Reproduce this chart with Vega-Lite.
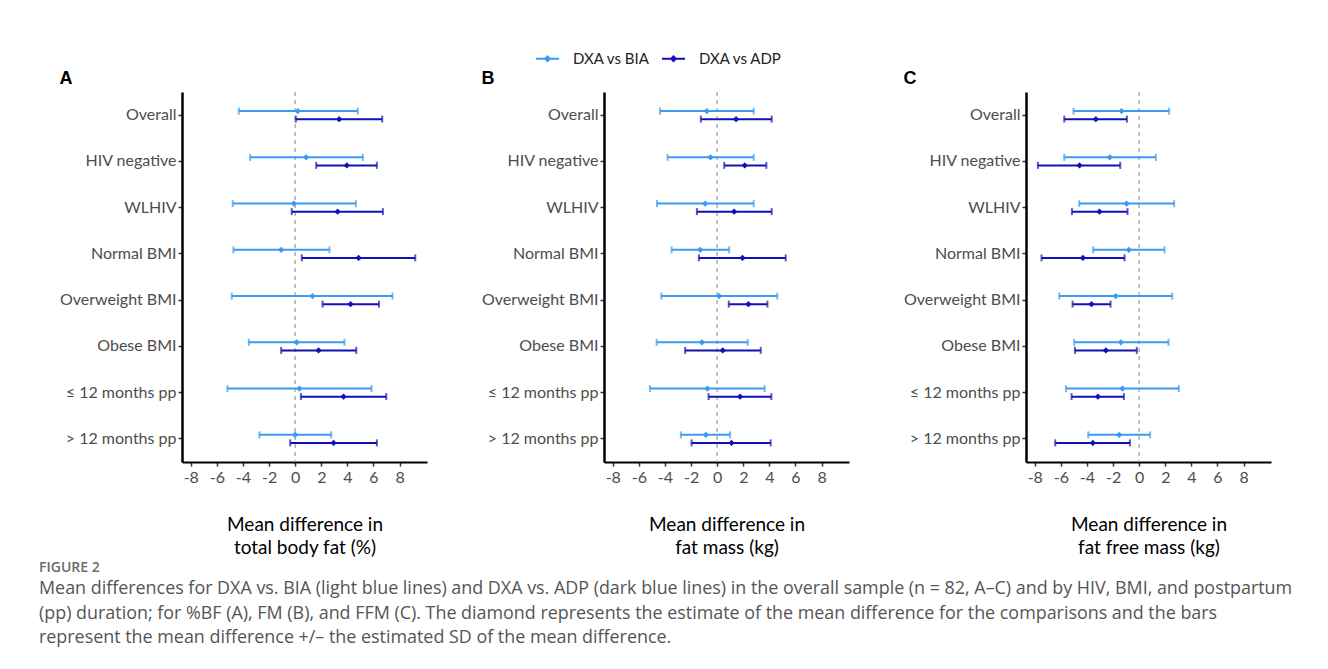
{
  "$schema": "https://vega.github.io/schema/vega-lite/v6.json",
  "background": "white",
  "padding": {"left": 39, "top": 46, "right": 10, "bottom": 10},
  "datasets": {
    "md": [
      {"panel": "A", "group": "Overall", "series": "DXA vs BIA", "lo": -4.32, "mean": 0.2, "hi": 4.8},
      {"panel": "A", "group": "Overall", "series": "DXA vs ADP", "lo": 0.05, "mean": 3.37, "hi": 6.67},
      {"panel": "A", "group": "HIV negative", "series": "DXA vs BIA", "lo": -3.45, "mean": 0.84, "hi": 5.19},
      {"panel": "A", "group": "HIV negative", "series": "DXA vs ADP", "lo": 1.61, "mean": 3.96, "hi": 6.26},
      {"panel": "A", "group": "WLHIV", "series": "DXA vs BIA", "lo": -4.78, "mean": -0.1, "hi": 4.65},
      {"panel": "A", "group": "WLHIV", "series": "DXA vs ADP", "lo": -0.26, "mean": 3.25, "hi": 6.72},
      {"panel": "A", "group": "Normal BMI", "series": "DXA vs BIA", "lo": -4.73, "mean": -1.07, "hi": 2.63},
      {"panel": "A", "group": "Normal BMI", "series": "DXA vs ADP", "lo": 0.51, "mean": 4.86, "hi": 9.2},
      {"panel": "A", "group": "Overweight BMI", "series": "DXA vs BIA", "lo": -4.86, "mean": 1.33, "hi": 7.46},
      {"panel": "A", "group": "Overweight BMI", "series": "DXA vs ADP", "lo": 2.1, "mean": 4.24, "hi": 6.42},
      {"panel": "A", "group": "Obese BMI", "series": "DXA vs BIA", "lo": -3.55, "mean": 0.13, "hi": 3.78},
      {"panel": "A", "group": "Obese BMI", "series": "DXA vs ADP", "lo": -1.07, "mean": 1.79, "hi": 4.68},
      {"panel": "A", "group": "≤ 12 months pp", "series": "DXA vs BIA", "lo": -5.19, "mean": 0.33, "hi": 5.85},
      {"panel": "A", "group": "≤ 12 months pp", "series": "DXA vs ADP", "lo": 0.44, "mean": 3.71, "hi": 6.98},
      {"panel": "A", "group": "> 12 months pp", "series": "DXA vs BIA", "lo": -2.74, "mean": 0.0, "hi": 2.76},
      {"panel": "A", "group": "> 12 months pp", "series": "DXA vs ADP", "lo": -0.38, "mean": 2.94, "hi": 6.26},
      {"panel": "B", "group": "Overall", "series": "DXA vs BIA", "lo": -4.38, "mean": -0.79, "hi": 2.8},
      {"panel": "B", "group": "Overall", "series": "DXA vs ADP", "lo": -1.25, "mean": 1.45, "hi": 4.18},
      {"panel": "B", "group": "HIV negative", "series": "DXA vs BIA", "lo": -3.8, "mean": -0.51, "hi": 2.8},
      {"panel": "B", "group": "HIV negative", "series": "DXA vs ADP", "lo": 0.54, "mean": 2.11, "hi": 3.77},
      {"panel": "B", "group": "WLHIV", "series": "DXA vs BIA", "lo": -4.61, "mean": -0.92, "hi": 2.8},
      {"panel": "B", "group": "WLHIV", "series": "DXA vs ADP", "lo": -1.55, "mean": 1.3, "hi": 4.18},
      {"panel": "B", "group": "Normal BMI", "series": "DXA vs BIA", "lo": -3.49, "mean": -1.3, "hi": 0.92},
      {"panel": "B", "group": "Normal BMI", "series": "DXA vs ADP", "lo": -1.4, "mean": 1.94, "hi": 5.25},
      {"panel": "B", "group": "Overweight BMI", "series": "DXA vs BIA", "lo": -4.28, "mean": 0.15, "hi": 4.61},
      {"panel": "B", "group": "Overweight BMI", "series": "DXA vs ADP", "lo": 0.89, "mean": 2.39, "hi": 3.85},
      {"panel": "B", "group": "Obese BMI", "series": "DXA vs BIA", "lo": -4.64, "mean": -1.17, "hi": 2.34},
      {"panel": "B", "group": "Obese BMI", "series": "DXA vs ADP", "lo": -2.45, "mean": 0.43, "hi": 3.34},
      {"panel": "B", "group": "≤ 12 months pp", "series": "DXA vs BIA", "lo": -5.15, "mean": -0.74, "hi": 3.64},
      {"panel": "B", "group": "≤ 12 months pp", "series": "DXA vs ADP", "lo": -0.66, "mean": 1.76, "hi": 4.15},
      {"panel": "B", "group": "> 12 months pp", "series": "DXA vs BIA", "lo": -2.78, "mean": -0.87, "hi": 0.99},
      {"panel": "B", "group": "> 12 months pp", "series": "DXA vs ADP", "lo": -1.96, "mean": 1.1, "hi": 4.1},
      {"panel": "C", "group": "Overall", "series": "DXA vs BIA", "lo": -5.03, "mean": -1.35, "hi": 2.3},
      {"panel": "C", "group": "Overall", "series": "DXA vs ADP", "lo": -5.74, "mean": -3.32, "hi": -0.94},
      {"panel": "C", "group": "HIV negative", "series": "DXA vs BIA", "lo": -5.74, "mean": -2.25, "hi": 1.28},
      {"panel": "C", "group": "HIV negative", "series": "DXA vs ADP", "lo": -7.76, "mean": -4.57, "hi": -1.45},
      {"panel": "C", "group": "WLHIV", "series": "DXA vs BIA", "lo": -4.59, "mean": -0.97, "hi": 2.68},
      {"panel": "C", "group": "WLHIV", "series": "DXA vs ADP", "lo": -5.15, "mean": -3.04, "hi": -0.89},
      {"panel": "C", "group": "Normal BMI", "series": "DXA vs BIA", "lo": -3.52, "mean": -0.79, "hi": 1.94},
      {"panel": "C", "group": "Normal BMI", "series": "DXA vs ADP", "lo": -7.48, "mean": -4.31, "hi": -1.12},
      {"panel": "C", "group": "Overweight BMI", "series": "DXA vs BIA", "lo": -6.12, "mean": -1.79, "hi": 2.53},
      {"panel": "C", "group": "Overweight BMI", "series": "DXA vs ADP", "lo": -5.1, "mean": -3.65, "hi": -2.19},
      {"panel": "C", "group": "Obese BMI", "series": "DXA vs BIA", "lo": -4.98, "mean": -1.4, "hi": 2.25},
      {"panel": "C", "group": "Obese BMI", "series": "DXA vs ADP", "lo": -4.92, "mean": -2.55, "hi": -0.18},
      {"panel": "C", "group": "≤ 12 months pp", "series": "DXA vs BIA", "lo": -5.61, "mean": -1.28, "hi": 3.04},
      {"panel": "C", "group": "≤ 12 months pp", "series": "DXA vs ADP", "lo": -5.18, "mean": -3.16, "hi": -1.17},
      {"panel": "C", "group": "> 12 months pp", "series": "DXA vs BIA", "lo": -3.9, "mean": -1.53, "hi": 0.84},
      {"panel": "C", "group": "> 12 months pp", "series": "DXA vs ADP", "lo": -6.43, "mean": -3.55, "hi": -0.71}
    ]
  },
  "title": {
    "text": "FIGURE 2",
    "subtitle": [
      "Mean differences for DXA vs. BIA (light blue lines) and DXA vs. ADP (dark blue lines) in the overall sample (n = 82, A–C) and by HIV, BMI, and postpartum",
      "(pp) duration; for %BF (A), FM (B), and FFM (C). The diamond represents the estimate of the mean difference for the comparisons and the bars",
      "represent the mean difference +/– the estimated SD of the mean difference."
    ],
    "orient": "bottom",
    "anchor": "start",
    "frame": "group",
    "dx": -143,
    "offset": 4,
    "font": "Open Sans",
    "fontSize": 14,
    "fontWeight": 600,
    "color": "#6b6b6b",
    "subtitleFont": "Open Sans",
    "subtitleFontSize": 17.9,
    "subtitleColor": "#555555",
    "subtitleLineHeight": 24.5,
    "subtitlePadding": 5
  },
  "spacing": 54,
  "resolve": {"scale": {"color": "shared", "x": "independent", "y": "independent"}, "legend": {"color": "shared"}},
  "hconcat": [
    {
      "width": 245, "height": 370,
      "title": {"text": "A"},
      "layer": [
        {
          "data": {"values": [{}]},
          "mark": {"type": "rule", "color": "#b0b0b0", "strokeDash": [4, 4], "strokeWidth": 1.5},
          "encoding": {
            "x": {"datum": 0, "type": "quantitative", "scale": {"domain": [-8.67, 10.1], "nice": false, "zero": false},
                  "axis": {"values": [-8, -6, -4, -2, 0, 2, 4, 6, 8], "title": ["Mean difference in", "total body fat (%)"]}}
          }
        },
        {
          "data": {"name": "md"},
          "transform": [{"filter": "datum.panel === 'A'"}],
          "encoding": {
            "y": {"field": "group", "type": "nominal", "sort": ["Overall", "HIV negative", "WLHIV", "Normal BMI", "Overweight BMI", "Obese BMI", "≤ 12 months pp", "> 12 months pp"], "scale": {"paddingInner": 0.308, "paddingOuter": 0.154}, "axis": {"title": null}},
            "yOffset": {"field": "series", "type": "nominal", "sort": ["DXA vs BIA", "DXA vs ADP"], "scale": {"paddingInner": 0, "paddingOuter": 1}},
            "color": {"field": "series", "type": "nominal", "sort": ["DXA vs BIA", "DXA vs ADP"], "scale": {"domain": ["DXA vs BIA", "DXA vs ADP"], "range": ["#3a9bef", "#1212b4"]},
                      "legend": {"orient": "none", "legendX": 353, "legendY": -46, "direction": "horizontal", "title": null, "padding": 0,
                                 "symbolType": "M-1,0H1M-0.2,0L0,-0.2L0.2,0L0,0.2Z", "symbolSize": 529, "symbolStrokeWidth": 2, "symbolOpacity": 1,
                                 "labelFont": "Lato", "labelFontSize": 15, "labelColor": "#222", "labelOffset": 13, "columnPadding": 8,
                                 "encode": {"symbols": {"update": {"opacity": {"value": 1}, "strokeOpacity": {"value": 1}}}}}}
          },
          "layer": [
            {
              "mark": {"type": "rule", "strokeWidth": 2},
              "encoding": {
                "x": {"field": "lo", "type": "quantitative", "axis": {"values": [-8, -6, -4, -2, 0, 2, 4, 6, 8], "title": ["Mean difference in", "total body fat (%)"]}},
                "x2": {"field": "hi"}
              }
            },
            {
              "mark": {"type": "tick", "orient": "vertical", "thickness": 2, "size": 7},
              "encoding": {"x": {"field": "lo", "type": "quantitative", "axis": {"values": [-8, -6, -4, -2, 0, 2, 4, 6, 8], "title": ["Mean difference in", "total body fat (%)"]}}}
            },
            {
              "mark": {"type": "tick", "orient": "vertical", "thickness": 2, "size": 7},
              "encoding": {"x": {"field": "hi", "type": "quantitative", "axis": {"values": [-8, -6, -4, -2, 0, 2, 4, 6, 8], "title": ["Mean difference in", "total body fat (%)"]}}}
            },
            {
              "mark": {"type": "point", "shape": "diamond", "filled": true, "size": 40, "opacity": 1},
              "encoding": {"x": {"field": "mean", "type": "quantitative", "axis": {"values": [-8, -6, -4, -2, 0, 2, 4, 6, 8], "title": ["Mean difference in", "total body fat (%)"]}}}
            }
          ]
        }
      ]
    },
    {
      "width": 245, "height": 370,
      "title": {"text": "B"},
      "layer": [
        {
          "data": {"values": [{}]},
          "mark": {"type": "rule", "color": "#b0b0b0", "strokeDash": [4, 4], "strokeWidth": 1.5},
          "encoding": {
            "x": {"datum": 0, "type": "quantitative", "scale": {"domain": [-8.67, 10.1], "nice": false, "zero": false},
                  "axis": {"values": [-8, -6, -4, -2, 0, 2, 4, 6, 8], "title": ["Mean difference in", "fat mass (kg)"]}}
          }
        },
        {
          "data": {"name": "md"},
          "transform": [{"filter": "datum.panel === 'B'"}],
          "encoding": {
            "y": {"field": "group", "type": "nominal", "sort": ["Overall", "HIV negative", "WLHIV", "Normal BMI", "Overweight BMI", "Obese BMI", "≤ 12 months pp", "> 12 months pp"], "scale": {"paddingInner": 0.308, "paddingOuter": 0.154}, "axis": {"title": null}},
            "yOffset": {"field": "series", "type": "nominal", "sort": ["DXA vs BIA", "DXA vs ADP"], "scale": {"paddingInner": 0, "paddingOuter": 1}},
            "color": {"field": "series", "type": "nominal", "sort": ["DXA vs BIA", "DXA vs ADP"]}
          },
          "layer": [
            {
              "mark": {"type": "rule", "strokeWidth": 2},
              "encoding": {
                "x": {"field": "lo", "type": "quantitative", "axis": {"values": [-8, -6, -4, -2, 0, 2, 4, 6, 8], "title": ["Mean difference in", "fat mass (kg)"]}},
                "x2": {"field": "hi"}
              }
            },
            {
              "mark": {"type": "tick", "orient": "vertical", "thickness": 2, "size": 7},
              "encoding": {"x": {"field": "lo", "type": "quantitative", "axis": {"values": [-8, -6, -4, -2, 0, 2, 4, 6, 8], "title": ["Mean difference in", "fat mass (kg)"]}}}
            },
            {
              "mark": {"type": "tick", "orient": "vertical", "thickness": 2, "size": 7},
              "encoding": {"x": {"field": "hi", "type": "quantitative", "axis": {"values": [-8, -6, -4, -2, 0, 2, 4, 6, 8], "title": ["Mean difference in", "fat mass (kg)"]}}}
            },
            {
              "mark": {"type": "point", "shape": "diamond", "filled": true, "size": 40, "opacity": 1},
              "encoding": {"x": {"field": "mean", "type": "quantitative", "axis": {"values": [-8, -6, -4, -2, 0, 2, 4, 6, 8], "title": ["Mean difference in", "fat mass (kg)"]}}}
            }
          ]
        }
      ]
    },
    {
      "width": 245, "height": 370,
      "title": {"text": "C"},
      "layer": [
        {
          "data": {"values": [{}]},
          "mark": {"type": "rule", "color": "#b0b0b0", "strokeDash": [4, 4], "strokeWidth": 1.5},
          "encoding": {
            "x": {"datum": 0, "type": "quantitative", "scale": {"domain": [-8.67, 10.1], "nice": false, "zero": false},
                  "axis": {"values": [-8, -6, -4, -2, 0, 2, 4, 6, 8], "title": ["Mean difference in", "fat free mass (kg)"]}}
          }
        },
        {
          "data": {"name": "md"},
          "transform": [{"filter": "datum.panel === 'C'"}],
          "encoding": {
            "y": {"field": "group", "type": "nominal", "sort": ["Overall", "HIV negative", "WLHIV", "Normal BMI", "Overweight BMI", "Obese BMI", "≤ 12 months pp", "> 12 months pp"], "scale": {"paddingInner": 0.308, "paddingOuter": 0.154}, "axis": {"title": null}},
            "yOffset": {"field": "series", "type": "nominal", "sort": ["DXA vs BIA", "DXA vs ADP"], "scale": {"paddingInner": 0, "paddingOuter": 1}},
            "color": {"field": "series", "type": "nominal", "sort": ["DXA vs BIA", "DXA vs ADP"]}
          },
          "layer": [
            {
              "mark": {"type": "rule", "strokeWidth": 2},
              "encoding": {
                "x": {"field": "lo", "type": "quantitative", "axis": {"values": [-8, -6, -4, -2, 0, 2, 4, 6, 8], "title": ["Mean difference in", "fat free mass (kg)"]}},
                "x2": {"field": "hi"}
              }
            },
            {
              "mark": {"type": "tick", "orient": "vertical", "thickness": 2, "size": 7},
              "encoding": {"x": {"field": "lo", "type": "quantitative", "axis": {"values": [-8, -6, -4, -2, 0, 2, 4, 6, 8], "title": ["Mean difference in", "fat free mass (kg)"]}}}
            },
            {
              "mark": {"type": "tick", "orient": "vertical", "thickness": 2, "size": 7},
              "encoding": {"x": {"field": "hi", "type": "quantitative", "axis": {"values": [-8, -6, -4, -2, 0, 2, 4, 6, 8], "title": ["Mean difference in", "fat free mass (kg)"]}}}
            },
            {
              "mark": {"type": "point", "shape": "diamond", "filled": true, "size": 40, "opacity": 1},
              "encoding": {"x": {"field": "mean", "type": "quantitative", "axis": {"values": [-8, -6, -4, -2, 0, 2, 4, 6, 8], "title": ["Mean difference in", "fat free mass (kg)"]}}}
            }
          ]
        }
      ]
    }
  ],
  "config": {
    "view": {"stroke": null},
    "font": "Lato",
    "axis": {"grid": false, "domainColor": "black", "domainWidth": 2, "tickColor": "#333333", "tickWidth": 1.5, "tickSize": 4,
             "labelColor": "#4d4d4d", "labelFont": "Lato", "labelFontSize": 16,
             "titleFont": "Lato", "titleFontSize": 19, "titleFontWeight": "normal", "titleColor": "black", "titleLineHeight": 23},
    "axisY": {"labelFontSize": 16, "labelPadding": 2, "domainWidth": 2.5},
    "axisX": {"labelPadding": 3, "titlePadding": 30, "labelOverlap": false, "labelExpr": "datum.value < 0 ? '-' + abs(datum.value) : '' + datum.value"},
    "title": {"font": "Liberation Sans", "fontSize": 18, "fontWeight": "bold", "color": "black", "anchor": "start", "frame": "bounds", "offset": 3}
  }
}
